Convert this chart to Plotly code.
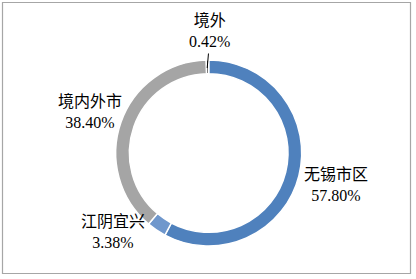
import plotly.graph_objects as go

labels = ["无锡市区", "江阴宜兴", "境内外市", "境外"]
values = [57.80, 3.38, 38.40, 0.42]
pct_text = ["57.80%", "3.38%", "38.40%", "0.42%"]
colors = ["#4F81BD", "#6F97CC", "#A5A5A5", "#3F3F3F"]

W, H = 416, 279
cx, cy, r = 208.7, 153, 93

fig = go.Figure(go.Pie(
    labels=labels, values=values, sort=False, direction="clockwise", rotation=0,
    hole=0.853, textinfo="none", hoverinfo="label+percent",
    marker=dict(colors=colors, line=dict(color="white", width=1.5)),
    domain=dict(x=[(cx - r) / W, (cx + r) / W], y=[1 - (cy + r) / H, 1 - (cy - r) / H]),
    showlegend=False,
))

# label anchor positions (pixel centres)
label_pos = {
    "无锡市区": (336, 185),
    "江阴宜兴": (113, 232),
    "境内外市": (90, 111),
    "境外": (209, 30),
}
font = dict(family="Liberation Serif, Noto Sans CJK SC", size=16, color="#000000")
anns = []
for lab, pt in zip(labels, pct_text):
    x, y = label_pos[lab]
    anns.append(dict(x=x / W, y=1 - y / H, xref="paper", yref="paper",
                     text=f"{lab}<br>{pt}", showarrow=False, font=font,
                     xanchor="center", yanchor="middle", align="center"))
# leader line for the tiny slice
anns.append(dict(x=207.2 / W, y=1 - 68 / H, xref="paper", yref="paper",
                 ax=1.4, ay=-16, axref="pixel", ayref="pixel",
                 text="", showarrow=True, arrowhead=0, arrowwidth=1, arrowcolor="#000000"))

fig.update_layout(
    width=W, height=H, margin=dict(l=0, r=0, t=0, b=0),
    paper_bgcolor="white", plot_bgcolor="white",
    annotations=anns,
    shapes=[dict(type="rect", xref="paper", yref="paper",
                 x0=2.5 / W, x1=410.5 / W, y0=1 - 273.5 / H, y1=1 - 2.5 / H,
                 line=dict(color="#A6A6A6", width=1.2), fillcolor="rgba(0,0,0,0)")],
)
fig.write_html("out.html")
